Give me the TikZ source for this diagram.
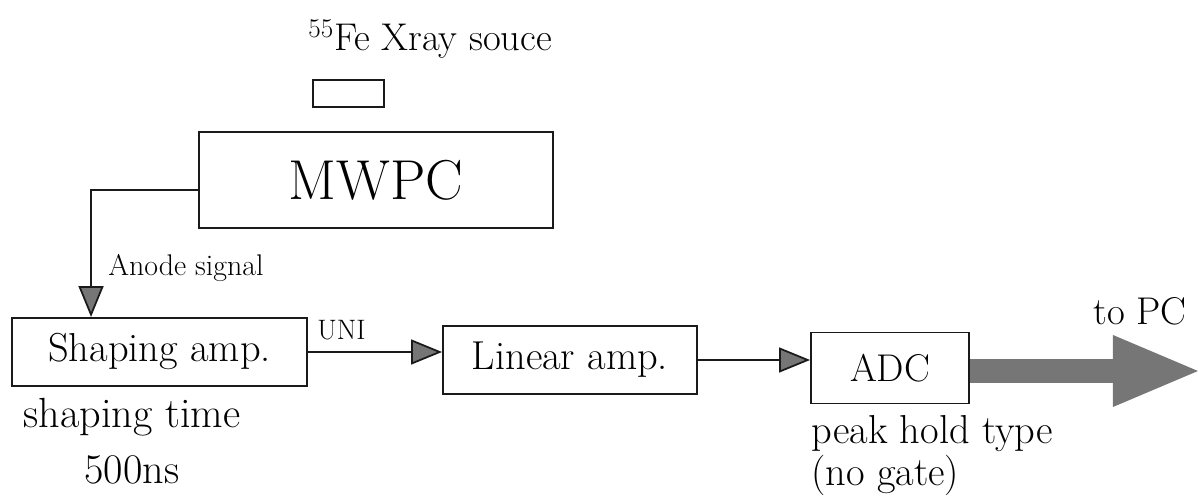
\documentclass[tikz,border=0pt]{standalone}
\usepackage{tikz}
\usetikzlibrary{arrows.meta,positioning,calc}
\usepackage{xcolor}
\definecolor{Ink}{HTML}{1A1A1A}
\definecolor{TipGray}{HTML}{767676}

\begin{document}
\begin{tikzpicture}[x=1cm,y=1cm,>=stealth,
  box/.style={draw=Ink,line width=1.1pt,inner sep=0pt,font=\fontsize{23}{27}\selectfont},
  sig/.style={Ink,line width=1pt,-{Triangle[length=0.62cm,width=0.5cm,fill=TipGray]}},
  bigarrow/.style={draw=TipGray,line width=0.48cm,-{Triangle[length=1.7cm,width=1.44cm,line width=0pt,fill=TipGray]}},
  lbl/.style={inner sep=0pt,font=\fontsize{17}{20}\selectfont},
  note/.style={inner sep=0pt,font=\fontsize{23}{27}\selectfont}]
\useasboundingbox (0,0) rectangle (23.96,9.94);
% source and chamber
\node[box,minimum width=1.42cm,minimum height=0.54cm] (src) at (6.970,8.07) {};
\node[note,anchor=base west,font=\fontsize{22}{26}\selectfont] (srclbl) at (6.160,8.92) {\textsuperscript{55}Fe Xray souce};
\node[box,minimum width=7.08cm,minimum height=1.92cm,font=\fontsize{32}{38}\selectfont] (mwpc) at (7.520,6.34) {MWPC};
% readout chain
\node[box,minimum width=5.90cm,minimum height=1.36cm] (shape) at (3.190,2.90) {Shaping amp.};
\node[box,minimum width=5.08cm,minimum height=1.36cm] (linear) at (11.400,2.74) {Linear amp.};
\node[box,minimum width=3.16cm,minimum height=1.42cm,font=\fontsize{22}{26}\selectfont] (adc) at (17.800,2.58) {ADC};
\coordinate (anodein) at ([xshift=1.6cm]shape.north west);
\coordinate (adcout) at ([yshift=-0.06cm]adc.east);
\coordinate (pc) at ([xshift=4.56cm]adcout);
\draw[sig] ([yshift=-0.2cm]mwpc.west) -| (anodein);
\draw[sig] (shape.east) -- (shape.east -| linear.west);
\draw[sig] (linear.east) -- (linear.east -| adc.west);
\draw[bigarrow] (adcout) -- (pc);
% labels
\node[lbl,anchor=base west] (anodelbl) at (2.160,4.42) {Anode signal};
\node[lbl,anchor=base west,font=\fontsize{16}{19}\selectfont] (uni) at (6.340,3.14) {UNI};
\node[note,anchor=north,align=center,font=\fontsize{24}{32}\selectfont] (shapetime) at (2.640,1.98) {shaping time\\500ns};
\node[note,anchor=north west,align=left,font=\fontsize{23}{24}\selectfont] (peak) at (16.220,1.64) {peak hold type\\(no gate)};
\node[note,anchor=base west,font=\fontsize{22}{26}\selectfont] (topc) at (21.860,3.44) {to PC};
\end{tikzpicture}
\end{document}
